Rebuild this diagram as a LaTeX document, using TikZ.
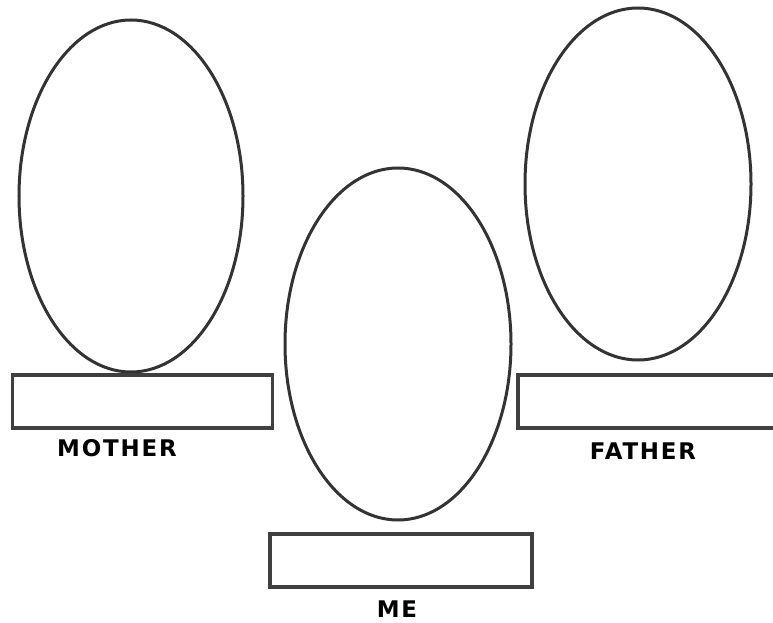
\documentclass[tikz,border=0pt]{standalone}
\usepackage{fontspec}
\newfontfamily\labelfont[LetterSpace=8]{DejaVu Sans}
\usetikzlibrary{shapes.geometric}

\tikzset{
  face/.style={ellipse, draw=black!80, line width=3bp, minimum width=226bp, minimum height=352bp, inner sep=0pt},
  namebox/.style={rectangle, draw=black!75, line width=3.2bp, minimum height=53bp, inner sep=0pt},
  namelabel/.style={font=\labelfont\bfseries\fontsize{23}{26}\selectfont, text=black, inner sep=0pt}
}

\begin{document}
\begin{tikzpicture}[x=1bp, y=-1bp]
            \useasboundingbox (0,0) rectangle (773,623);
            \clip (0,0) rectangle (773,623);

            % mother
            \node[face, minimum width=224bp] (motherface) at (131,196) {};
            \node[namebox, minimum width=260bp] (motherbox) at (142.5,401.5) {};
            \node[namelabel] (mother) at (117,448) {MOTHER};

            % me
            \node[face] (meface) at (398,344) {};
            \node[namebox, minimum width=262bp] (mebox) at (401,560.5) {};
            \node[namelabel] (me) at (397,609) {ME};

            % father
            \node[face] (fatherface) at (638,184) {};
            \node[namebox, minimum width=272bp] (fatherbox) at (654,401.5) {};
            \node[namelabel] (father) at (643,451) {FATHER};
        \end{tikzpicture}
\end{document}
